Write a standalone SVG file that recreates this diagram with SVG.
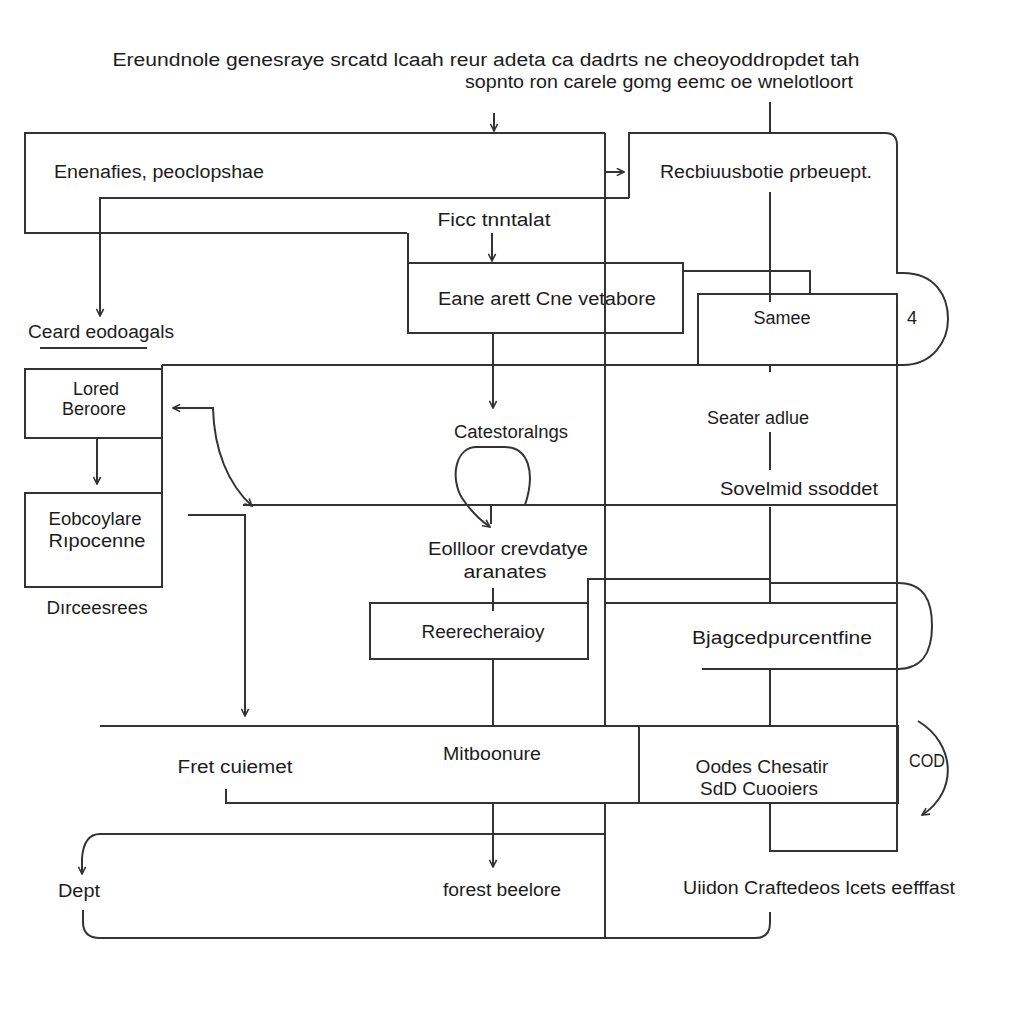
<svg xmlns="http://www.w3.org/2000/svg" width="1024" height="1024" viewBox="0 0 1024 1024">
  <style>
    .ln { fill: none; stroke: #333; stroke-width: 2; stroke-linejoin: miter; }
    .bx { fill: none; stroke: #333; stroke-width: 2; }
    .t { font-family: "Liberation Sans", "DejaVu Sans", Arial, sans-serif; font-size: 18px; fill: #1c1c1c; text-anchor: middle; }
    .ts { font-family: "Liberation Sans", "DejaVu Sans", Arial, sans-serif; font-size: 18px; fill: #1c1c1c; text-anchor: start; }
  </style>
  <defs>
    <marker id="arr" viewBox="0 0 10 10" refX="9" refY="5" markerWidth="9" markerHeight="9" markerUnits="userSpaceOnUse" orient="auto-start-reverse">
      <path d="M1,1 L9,5 L1,9" fill="none" stroke="#333" stroke-width="1.8"/>
    </marker>
  </defs>
  <rect width="1024" height="1024" fill="#fff"/>

  <!-- heading -->
  <g id="title">
    <text class="t" x="486" y="66" textLength="747" lengthAdjust="spacingAndGlyphs">Ereundnole genesraye srcatd lcaah reur adeta ca dadrts ne cheoyoddropdet tah</text>
    <text class="t" x="659" y="88" textLength="388" lengthAdjust="spacingAndGlyphs">sopnto ron carele gomg eemc oe wnelotloort</text>
  </g>

  <!-- nodes -->
  <g id="n-enenafies">
    <path class="bx" d="M407,233 H25 V133 H605"/>
    <text class="ts" x="54" y="178" textLength="210" lengthAdjust="spacingAndGlyphs">Enenafies, peoclopshae</text>
  </g>
  <g id="n-recbiuusbotie">
    <path class="bx" d="M629,198 V133 H885 Q897,133 897,145 V273 H903 C935,273 948,296 948,319 C948,342 932,365 903,365 H897"/>
    <text class="t" x="766" y="178" textLength="212" lengthAdjust="spacingAndGlyphs">Recbiuusbotie ρrbeuept.</text>
    <text class="t" x="912" y="324">4</text>
  </g>
  <g id="n-ficc">
    <text class="t" x="494" y="226" textLength="113" lengthAdjust="spacingAndGlyphs">Ficc tnntalat</text>
  </g>
  <g id="n-eane">
    <rect class="bx" x="408" y="263" width="275" height="70"/>
    <text class="t" x="547" y="305" textLength="218" lengthAdjust="spacingAndGlyphs">Eane arett Cne vetabore</text>
  </g>
  <g id="n-samee">
    <rect class="bx" x="698" y="294" width="199" height="71"/>
    <text class="t" x="782" y="324">Samee</text>
  </g>
  <g id="n-ceard">
    <text class="ts" x="28" y="338" textLength="146" lengthAdjust="spacingAndGlyphs">Ceard eodoagals</text>
    <line class="ln" x1="40" y1="348" x2="147" y2="348"/>
  </g>
  <g id="n-lored">
    <rect class="bx" x="25" y="369" width="137" height="69"/>
    <text class="t" x="96" y="395">Lored</text>
    <text class="t" x="94" y="415">Beroore</text>
  </g>
  <g id="n-eobcoylare">
    <rect class="bx" x="25" y="493" width="137" height="94"/>
    <text class="t" x="95" y="525" textLength="93" lengthAdjust="spacingAndGlyphs">Eobcoylare</text>
    <text class="t" x="97" y="547" textLength="97" lengthAdjust="spacingAndGlyphs">Rıpocenne</text>
  </g>
  <g id="n-dirceesrees">
    <text class="t" x="97" y="614" textLength="101" lengthAdjust="spacingAndGlyphs">Dırceesrees</text>
  </g>
  <g id="n-catestoralngs">
    <text class="t" x="511" y="438" textLength="114" lengthAdjust="spacingAndGlyphs">Catestoralngs</text>
  </g>
  <g id="n-seater">
    <text class="t" x="758" y="424" textLength="102" lengthAdjust="spacingAndGlyphs">Seater adlue</text>
  </g>
  <g id="n-sovelmid">
    <text class="t" x="799" y="495" textLength="158" lengthAdjust="spacingAndGlyphs">Sovelmid ssoddet</text>
  </g>
  <g id="n-eollloor">
    <text class="t" x="508" y="555" textLength="160" lengthAdjust="spacingAndGlyphs">Eollloor crevdatye</text>
    <text class="t" x="505" y="578" textLength="83" lengthAdjust="spacingAndGlyphs">aranates</text>
  </g>
  <g id="n-reerecheraioy">
    <rect class="bx" x="370" y="603" width="218" height="56"/>
    <text class="t" x="483" y="638" textLength="123" lengthAdjust="spacingAndGlyphs">Reerecheraioy</text>
  </g>
  <g id="n-bjagced">
    <path class="bx" d="M605,603 H898"/>
    <path class="bx" d="M770,583 H898 C925,583 932,602 932,626 C932,652 922,669 898,669 H702"/>
    <text class="t" x="782" y="644" textLength="180" lengthAdjust="spacingAndGlyphs">Bjagcedpurcentfine</text>
  </g>
  <g id="n-mitboonure">
    <text class="t" x="492" y="760" textLength="98" lengthAdjust="spacingAndGlyphs">Mitboonure</text>
  </g>
  <g id="n-fret">
    <text class="t" x="235" y="773" textLength="115" lengthAdjust="spacingAndGlyphs">Fret cuiemet</text>
  </g>
  <g id="n-oodes">
    <rect class="bx" x="639" y="726" width="259" height="77"/>
    <text class="t" x="762" y="773" textLength="133" lengthAdjust="spacingAndGlyphs">Oodes Chesatir</text>
    <text class="t" x="759" y="795" textLength="118" lengthAdjust="spacingAndGlyphs">SdD Cuooiers</text>
  </g>
  <g id="n-cod">
    <text class="t" x="927" y="767" textLength="36" lengthAdjust="spacingAndGlyphs">COD</text>
  </g>
  <g id="n-forest">
    <path class="bx" d="M606,834 H100 Q84,834 82,858"/>
    <path class="bx" d="M83,910 V922 Q83,938 100,938 H755 Q770,938 770,923 V912"/>
    <text class="t" x="79" y="897" textLength="42" lengthAdjust="spacingAndGlyphs">Dept</text>
    <text class="t" x="502" y="896" textLength="118" lengthAdjust="spacingAndGlyphs">forest beelore</text>
  </g>
  <g id="n-uiidon">
    <text class="t" x="819" y="894" textLength="272" lengthAdjust="spacingAndGlyphs">Uiidon Craftedeos lcets eefffast</text>
  </g>

  <!-- connectors -->
  <g id="connectors" class="ln">
    <line x1="494" y1="113" x2="494" y2="131" marker-end="url(#arr)"/>
    <line x1="770" y1="102" x2="770" y2="133"/>
    <polyline points="100,316 100,198 629,198" marker-start="url(#arr)"/>
    <line x1="605" y1="172" x2="624" y2="172" marker-end="url(#arr)"/>
    <line x1="605" y1="133" x2="605" y2="726"/>
    <line x1="605" y1="803" x2="605" y2="938"/>
    <line x1="408" y1="233" x2="408" y2="263"/>
    <line x1="492" y1="233" x2="492" y2="261" marker-end="url(#arr)"/>
    <line x1="770" y1="192" x2="770" y2="302"/>
    <polyline points="683,271 810,271 810,294"/>
    <line x1="493" y1="333" x2="493" y2="408" marker-end="url(#arr)"/>
    <line x1="162" y1="365" x2="897" y2="365"/>
    <line x1="162" y1="365" x2="162" y2="493"/>
    <line x1="97" y1="438" x2="97" y2="484" marker-end="url(#arr)"/>
    <path d="M173,408 H213 C214,450 228,484 252,506" marker-start="url(#arr)" marker-end="url(#arr)"/>
    <line x1="243" y1="505" x2="897" y2="505"/>
    <polyline points="188,515 245,515 245,716" marker-end="url(#arr)"/>
    <line x1="770" y1="365" x2="770" y2="372"/>
    <line x1="770" y1="432" x2="770" y2="470"/>
    <line x1="770" y1="507" x2="770" y2="603"/>
    <line x1="897" y1="365" x2="897" y2="851"/>
    <path d="M525,505 C536,472 528,447 505,447 H477 C455,447 450,478 462,498 C470,510 480,520 490,527" marker-end="url(#arr)"/>
    <line x1="491" y1="505" x2="491" y2="524"/>
    <line x1="493" y1="588" x2="493" y2="611"/>
    <polyline points="588,603 588,579 770,579"/>
    <line x1="770" y1="669" x2="770" y2="726"/>
    <line x1="493" y1="659" x2="493" y2="726"/>
    <line x1="100" y1="726" x2="898" y2="726"/>
    <polyline points="226,789 226,803 639,803"/>
    <line x1="493" y1="803" x2="493" y2="867" marker-end="url(#arr)"/>
    <polyline points="770,803 770,851 898,851"/>
    <line x1="82" y1="858" x2="82" y2="874" marker-end="url(#arr)"/>
    <path d="M918,721 C956,744 958,792 922,815" marker-end="url(#arr)"/>
  </g>
</svg>
